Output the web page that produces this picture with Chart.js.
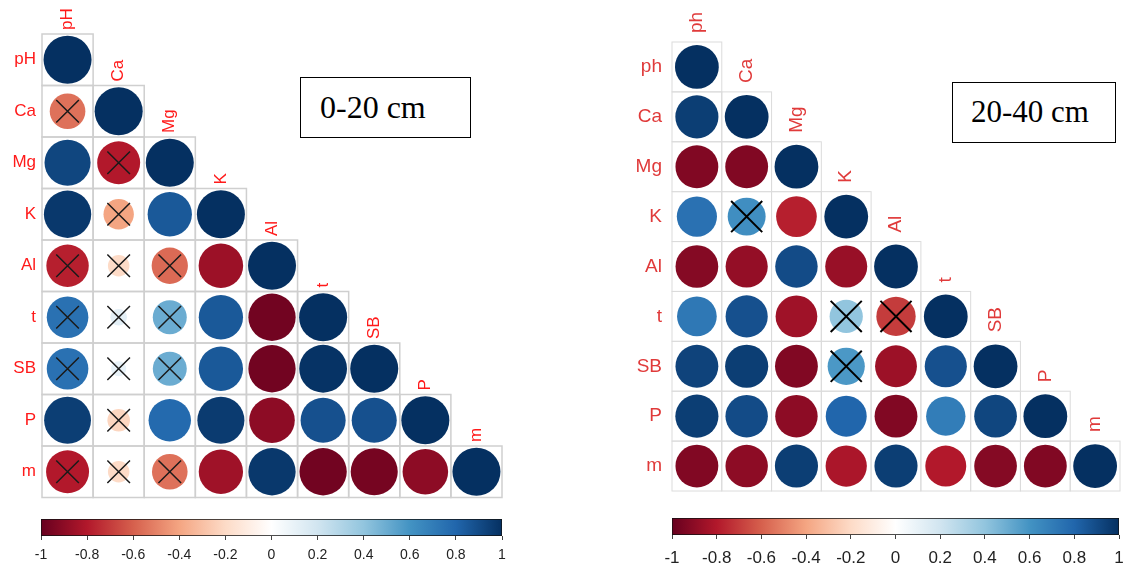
<!DOCTYPE html>
<html>
<head>
<meta charset="utf-8">
<script src="https://cdn.jsdelivr.net/npm/chart.js@4.4.1/dist/chart.umd.min.js"></script>
<style>
  html, body { margin:0; padding:0; background:#fff; }
  #wrap { position:relative; width:1145px; height:567px; overflow:hidden; background:#fff; }
  .box { position:absolute; }
  .tag { position:absolute; box-sizing:border-box; border:1.5px solid #000; background:#fff;
         font-family:'Liberation Serif','Times New Roman',serif; font-size:32px; color:#000; white-space:nowrap; }
</style>
</head>
<body>
<div id="wrap">
  <div class="box" style="left:0;top:0;width:560px;height:515px"><canvas id="corrA"></canvas></div>
  <div class="box" style="left:0;top:505px;width:560px;height:62px"><canvas id="barA"></canvas></div>
  <div class="box" style="left:580px;top:0;width:565px;height:515px"><canvas id="corrB"></canvas></div>
  <div class="box" style="left:580px;top:503px;width:565px;height:64px"><canvas id="barB"></canvas></div>
  <div class="tag" style="left:300px;top:77px;width:171px;height:61px;line-height:58px;padding-left:19px">0-20 cm</div>
  <div class="tag" style="left:952px;top:82px;width:164px;height:61px;line-height:58px;padding-left:18px;font-size:31px">20-40 cm</div>
</div>
<script>
// ---------- DATA: 0-20 cm ----------
const varsA = ['pH','Ca','Mg','K','Al','t','SB','P','m'];
const rowA_pH = [1];
const rowA_Ca = [-0.55, 1];
const rowA_Mg = [0.92, -0.80, 1];
const rowA_K  = [0.97, -0.40, 0.85, 1];
const rowA_Al = [-0.78, -0.20, -0.57, -0.86, 1];
const rowA_t  = [0.75, 0.12, 0.50, 0.85, -0.97, 1];
const rowA_SB = [0.75, 0.10, 0.50, 0.85, -0.97, 0.99, 1];
const rowA_P  = [0.95, -0.22, 0.78, 0.96, -0.90, 0.88, 0.88, 1];
const rowA_m  = [-0.80, -0.20, -0.55, -0.85, 0.97, -0.97, -0.96, -0.90, 1];
const insigA = [[1,0],[2,1],[3,1],[4,0],[4,1],[4,2],[5,0],[5,1],[5,2],[6,0],[6,1],[6,2],[7,1],[8,0],[8,1],[8,2]];

// ---------- DATA: 20-40 cm ----------
const varsB = ['ph','Ca','Mg','K','Al','t','SB','P','m'];
const rowB_ph = [1];
const rowB_Ca = [0.95, 1];
const rowB_Mg = [-0.93, -0.93, 1];
const rowB_K  = [0.75, 0.62, -0.78, 1];
const rowB_Al = [-0.92, -0.88, 0.90, -0.87, 1];
const rowB_t  = [0.72, 0.88, -0.85, 0.40, -0.70, 1];
const rowB_SB = [0.93, 0.95, -0.93, 0.58, -0.86, 0.88, 1];
const rowB_P  = [0.95, 0.90, -0.90, 0.80, -0.93, 0.70, 0.92, 1];
const rowB_m  = [-0.93, -0.90, 0.95, -0.82, 0.95, -0.80, -0.92, -0.93, 1];
const insigB = [[3,1],[5,3],[5,4],[6,3]];

// colour bar ticks
const barTicks = [-1,-0.8,-0.6,-0.4,-0.2,0,0.2,0.4,0.6,0.8,1];

// ---------- colour scale (RdBu) ----------
const rdbu = ['#67001F','#B2182B','#D6604D','#F4A582','#FDDBC7','#FFFFFF','#D1E5F0','#92C5DE','#4393C3','#2166AC','#053061'];
function hex2rgb(h){ return [parseInt(h.substr(1,2),16),parseInt(h.substr(3,2),16),parseInt(h.substr(5,2),16)]; }
function corrColor(v){
  const t = (v + 1) / 2 * (rdbu.length - 1);
  const i = Math.min(Math.floor(t), rdbu.length - 2);
  const f = t - i;
  const a = hex2rgb(rdbu[i]), b = hex2rgb(rdbu[i+1]);
  const c = a.map((x,k)=>Math.round(x + (b[k]-x)*f));
  return 'rgb(' + c.join(',') + ')';
}

function buildPoints(rows){
  const pts = [];
  rows.forEach((row,i)=>row.forEach((v,j)=>pts.push({x:j, y:i, v:v})));
  return pts;
}

function corrChart(id, vars, rows, insig, cfg){
  const pts = buildPoints(rows);
  const crosses = insig.map(p=>({x:p[1], y:p[0]}));
  const n = vars.length;
  const deco = {
    id: 'deco',
    beforeDatasetsDraw(chart){
      const ctx = chart.ctx, xs = chart.scales.x, ys = chart.scales.y;
      ctx.save();
      ctx.strokeStyle = cfg.gridColor; ctx.lineWidth = cfg.gridWidth;
      for (let i=0;i<n;i++){
        for (let j=0;j<=i;j++){
          const x0 = xs.getPixelForValue(j-0.5), x1 = xs.getPixelForValue(j+0.5);
          const y0 = ys.getPixelForValue(i-0.5), y1 = ys.getPixelForValue(i+0.5);
          ctx.strokeRect(x0, y0, x1-x0, y1-y0);
        }
      }
      ctx.fillStyle = cfg.labelColor;
      ctx.font = cfg.labelSize + 'px "Liberation Sans", Arial, sans-serif';
      ctx.textAlign = 'right'; ctx.textBaseline = 'middle';
      vars.forEach((lab,i)=>{
        ctx.fillText(lab, xs.getPixelForValue(-0.5) - cfg.rowGap, ys.getPixelForValue(i));
      });
      ctx.textAlign = 'left';
      vars.forEach((lab,j)=>{
        ctx.save();
        ctx.translate(xs.getPixelForValue(j), ys.getPixelForValue(j-0.5) - cfg.colGap);
        ctx.rotate(-Math.PI/2);
        ctx.fillText(lab, 0, 0);
        ctx.restore();
      });
      ctx.restore();
    }
  };
  return new Chart(document.getElementById(id), {
    type: 'scatter',
    data: { datasets: [
      { label:'insig', data: crosses, order:0, pointStyle:'crossRot', pointRadius: cfg.crossR,
        pointBorderColor: cfg.crossColor, pointBorderWidth: cfg.crossW, pointBackgroundColor:'rgba(0,0,0,0)' },
      { label:'corr', data: pts, order:1, pointStyle:'circle',
        pointRadius: (c)=>{ const xs=c.chart.scales.x; const w = Math.abs(xs.getPixelForValue(1)-xs.getPixelForValue(0));
                             return w*cfg.rFrac*Math.pow(Math.abs(c.raw.v), cfg.rPow); },
        pointBackgroundColor: (c)=>corrColor(c.raw.v), pointBorderWidth:0, pointBorderColor:'rgba(0,0,0,0)' }
    ]},
    options: {
      responsive:false, animation:false, events:[],
      layout:{ padding: cfg.pad },
      plugins:{ legend:{display:false}, tooltip:{enabled:false} },
      scales:{
        x:{ type:'linear', display:false, min:-0.5, max:n-0.5 },
        y:{ type:'linear', display:false, min:-0.5, max:n-0.5, reverse:true }
      }
    },
    plugins:[deco]
  });
}

function barChart(id, cfg){
  return new Chart(document.getElementById(id), {
    type:'bar',
    data:{ labels:['r'], datasets:[{ data:[[barTicks[0], barTicks[barTicks.length-1]]],
      backgroundColor:(c)=>{ const a=c.chart.chartArea; if(!a) return '#fff';
        const g=c.chart.ctx.createLinearGradient(a.left,0,a.right,0);
        rdbu.forEach((col,k)=>g.addColorStop(k/(rdbu.length-1), col)); return g; },
      borderColor:'#111', borderWidth:1, borderSkipped:false, barPercentage:1, categoryPercentage:1 }]},
    options:{
      indexAxis:'y', responsive:false, animation:false, events:[],
      layout:{ padding: cfg.pad },
      plugins:{ legend:{display:false}, tooltip:{enabled:false} },
      scales:{
        x:{ type:'linear', min:-1, max:1, afterBuildTicks:(s)=>{ s.ticks = barTicks.map(v=>({value:v})); },
            afterFit:(s)=>{ s.height = cfg.axisH; },
            grid:{ drawOnChartArea:false, drawTicks:true, tickLength:4, color:'#444', lineWidth:1 },
            border:{ display:false },
            ticks:{ autoSkip:false, maxRotation:0, padding: cfg.tickPad, color:'#222',
                    font:{ family:'"Liberation Sans", Arial, sans-serif', size: cfg.fontSize },
                    callback:(v)=>String(Number(v.toFixed(1))) } },
        y:{ display:false }
      }
    }
  });
}

function sizeCanvas(id,w,h){ const c=document.getElementById(id); c.width=w; c.height=h; c.style.width=w+'px'; c.style.height=h+'px'; }
sizeCanvas('corrA',560,515); sizeCanvas('barA',560,62);
sizeCanvas('corrB',565,515); sizeCanvas('barB',565,64);

corrChart('corrA', varsA, [rowA_pH,rowA_Ca,rowA_Mg,rowA_K,rowA_Al,rowA_t,rowA_SB,rowA_P,rowA_m], insigA, {
  pad:{left:42, right:58, top:34, bottom:4}, gridColor:'#cfcfcf', gridWidth:1.5,
  labelColor:'#ff1a1a', labelSize:17, rowGap:6, colGap:4,
  crossR:16, crossW:1.5, crossColor:'#1a1a1a', rFrac:0.47, rPow:0.5 });

corrChart('corrB', varsB, [rowB_ph,rowB_Ca,rowB_Mg,rowB_K,rowB_Al,rowB_t,rowB_SB,rowB_P,rowB_m], insigB, {
  pad:{left:92, right:25, top:42, bottom:6}, gridColor:'#dcdcdc', gridWidth:1,
  labelColor:'#e03a3a', labelSize:19, rowGap:10, colGap:9,
  crossR:22, crossW:2, crossColor:'#000', rFrac:0.44, rPow:0.3 });

barChart('barA', { pad:{left:41, right:58, top:14, bottom:3}, axisH:28, tickPad:7, fontSize:14 });
barChart('barB', { pad:{left:92, right:26, top:15, bottom:2}, axisH:30, tickPad:9, fontSize:17 });
</script>
</body>
</html>
